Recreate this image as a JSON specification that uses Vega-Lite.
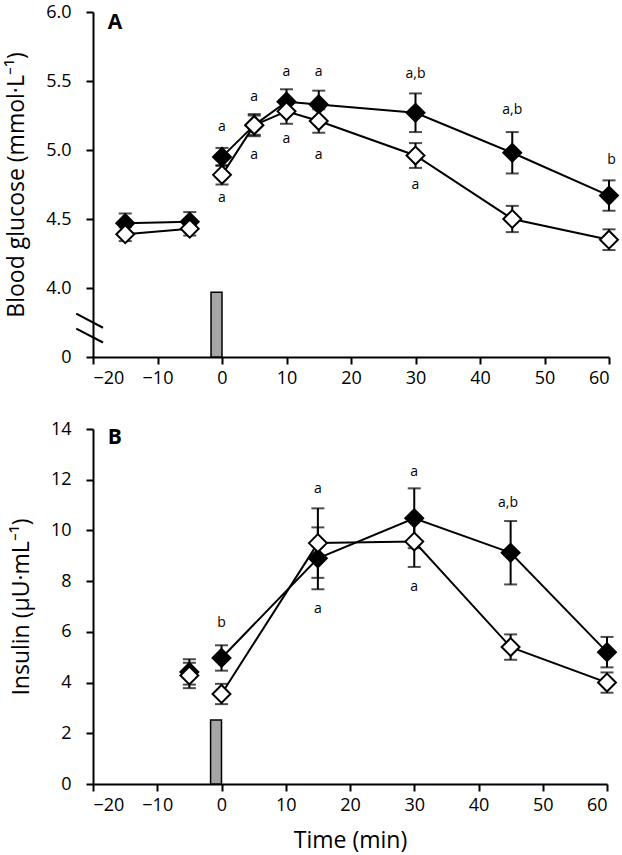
{
  "$schema": "https://vega.github.io/schema/vega-lite/v6.json",
  "padding": {"left": 5, "top": 3, "right": 0, "bottom": 3},
  "background": "white",
  "config": {
    "view": {"stroke": null},
    "font": "Open Sans",
    "axis": {
      "domainColor": "black", "domainWidth": 2,
      "tickColor": "black", "tickWidth": 2, "tickSize": 7,
      "labelColor": "black", "labelFont": "Open Sans", "labelFontSize": 18,
      "titleFont": "Open Sans", "titleFontSize": 23, "titleFontWeight": "normal", "titleColor": "black",
      "grid": false
    }
  },
  "datasets": {
    "glucose": [
      {"time": -15, "value": 4.47, "err": 0.07, "group": "filled", "seg": "f1"},
      {"time": -5, "value": 4.48, "err": 0.07, "group": "filled", "seg": "f1"},
      {"time": 0, "value": 4.95, "err": 0.065, "group": "filled", "seg": "f2"},
      {"time": 5, "value": 5.18, "err": 0.07, "group": "filled", "seg": "f2"},
      {"time": 10, "value": 5.35, "err": 0.09, "group": "filled", "seg": "f2"},
      {"time": 15, "value": 5.33, "err": 0.1, "group": "filled", "seg": "f2"},
      {"time": 30, "value": 5.27, "err": 0.14, "group": "filled", "seg": "f2"},
      {"time": 45, "value": 4.98, "err": 0.15, "group": "filled", "seg": "f2"},
      {"time": 60, "value": 4.67, "err": 0.11, "group": "filled", "seg": "f2"},
      {"time": -15, "value": 4.39, "err": 0.05, "group": "open", "seg": "o1"},
      {"time": -5, "value": 4.43, "err": 0.05, "group": "open", "seg": "o1"},
      {"time": 0, "value": 4.82, "err": 0.07, "group": "open", "seg": "o2"},
      {"time": 5, "value": 5.18, "err": 0.08, "group": "open", "seg": "o2"},
      {"time": 10, "value": 5.28, "err": 0.09, "group": "open", "seg": "o2"},
      {"time": 15, "value": 5.21, "err": 0.085, "group": "open", "seg": "o2"},
      {"time": 30, "value": 4.96, "err": 0.09, "group": "open", "seg": "o2"},
      {"time": 45, "value": 4.5, "err": 0.095, "group": "open", "seg": "o2"},
      {"time": 60, "value": 4.35, "err": 0.075, "group": "open", "seg": "o2"}
    ],
    "insulin": [
      {"time": -5, "value": 4.42, "err": 0.5, "group": "filled", "seg": "f1"},
      {"time": 0, "value": 4.97, "err": 0.5, "group": "filled", "seg": "f2"},
      {"time": 15, "value": 8.9, "err": 1.22, "group": "filled", "seg": "f2"},
      {"time": 30, "value": 10.48, "err": 1.18, "group": "filled", "seg": "f2"},
      {"time": 45, "value": 9.12, "err": 1.25, "group": "filled", "seg": "f2"},
      {"time": 60, "value": 5.2, "err": 0.6, "group": "filled", "seg": "f2"},
      {"time": -5, "value": 4.28, "err": 0.5, "group": "open", "seg": "o1"},
      {"time": 0, "value": 3.55, "err": 0.4, "group": "open", "seg": "o2"},
      {"time": 15, "value": 9.5, "err": 1.37, "group": "open", "seg": "o2"},
      {"time": 30, "value": 9.56, "err": 1.0, "group": "open", "seg": "o2"},
      {"time": 45, "value": 5.4, "err": 0.5, "group": "open", "seg": "o2"},
      {"time": 60, "value": 4.0, "err": 0.4, "group": "open", "seg": "o2"}
    ],
    "labelsA": [
      {"time": 0, "value": 5.17, "text": "a"},
      {"time": 0, "value": 4.65, "text": "a"},
      {"time": 5, "value": 5.386, "text": "a"},
      {"time": 5, "value": 4.964, "text": "a"},
      {"time": 10, "value": 5.564, "text": "a"},
      {"time": 10, "value": 5.079, "text": "a"},
      {"time": 15, "value": 5.564, "text": "a"},
      {"time": 15, "value": 4.964, "text": "a"},
      {"time": 30, "value": 5.55, "text": "a,b"},
      {"time": 30, "value": 4.75, "text": "a"},
      {"time": 45, "value": 5.293, "text": "a,b"},
      {"time": 60.4, "value": 4.93, "text": "b"}
    ],
    "labelsB": [
      {"time": 0, "value": 6.35, "text": "b"},
      {"time": 15, "value": 11.63, "text": "a"},
      {"time": 15, "value": 6.9, "text": "a"},
      {"time": 30, "value": 12.29, "text": "a"},
      {"time": 30, "value": 7.78, "text": "a"},
      {"time": 44.6, "value": 11.08, "text": "a,b"}
    ],
    "barA": [{"time": -1.7, "time2": 0, "value": 3.5, "value2": 3.97}],
    "barB": [{"time": -1.7, "time2": 0, "value": 0, "value2": 2.52}],
    "breaks": [
      {"time": -22.6, "time2": -18.45, "value": 3.814, "value2": 3.712},
      {"time": -22.6, "time2": -18.45, "value": 3.705, "value2": 3.605}
    ],
    "letterA": [{"time": -16.6, "value": 5.92, "text": "A"}],
    "letterB": [{"time": -16.6, "value": 13.64, "text": "B"}]
  },
  "spacing": 33,
  "vconcat": [
    {
      "width": 516,
      "height": 345,
      "encoding": {
        "x": {"field": "time", "type": "quantitative",
              "scale": {"domain": [-20, 60], "nice": false},
              "axis": {"values": [-20, -10, 0, 10, 20, 30, 40, 50, 60], "title": null, "labelPadding": 5}},
        "y": {"field": "value", "type": "quantitative",
              "scale": {"domain": [3.5, 6.0], "nice": false, "zero": false},
              "axis": {"values": [3.5, 4, 4.5, 5, 5.5, 6], "labelExpr": "datum.value == 3.5 ? '0' : format(datum.value, '.1f')",
                       "title": "Blood glucose (mmol·L⁻¹)", "labelPadding": 15, "titlePadding": 17}}
      },
      "layer": [
        {"data": {"name": "barA"}, "mark": {"type": "rect", "fill": "#a6a6a6", "stroke": "black", "strokeWidth": 1.5},
         "encoding": {"x2": {"field": "time2"}, "y2": {"field": "value2"}}},
        {"data": {"name": "breaks"}, "mark": {"type": "rule", "color": "black", "strokeWidth": 2},
         "encoding": {"x2": {"field": "time2"}, "y2": {"field": "value2"}}},
        {"data": {"name": "glucose"}, "mark": {"type": "errorbar", "color": "black", "ticks": {"size": 13, "thickness": 2, "color": "black"}, "rule": {"strokeWidth": 2, "color": "black"}},
         "encoding": {"yError": {"field": "err"}}},
        {"data": {"name": "glucose"}, "mark": {"type": "line", "color": "black", "strokeWidth": 2},
         "encoding": {"detail": {"field": "seg"}}},
        {"data": {"name": "glucose"}, "mark": {"type": "point", "shape": "diamond", "filled": true, "stroke": "black", "strokeWidth": 2, "size": 320, "opacity": 1},
         "encoding": {"fill": {"field": "group", "type": "nominal", "scale": {"domain": ["filled", "open"], "range": ["black", "white"]}, "legend": null}}},
        {"data": {"name": "labelsA"}, "mark": {"type": "text", "fontSize": 14, "color": "black"},
         "encoding": {"text": {"field": "text"}}},
        {"data": {"name": "letterA"}, "mark": {"type": "text", "fontSize": 21, "fontWeight": "bold", "color": "black"},
         "encoding": {"text": {"field": "text"}}}
      ]
    },
    {
      "width": 514,
      "height": 355,
      "encoding": {
        "x": {"field": "time", "type": "quantitative",
              "scale": {"domain": [-20, 60], "nice": false},
              "axis": {"values": [-20, -10, 0, 10, 20, 30, 40, 50, 60], "title": "Time (min)", "labelPadding": 5, "titlePadding": 15}},
        "y": {"field": "value", "type": "quantitative",
              "scale": {"domain": [0, 14], "nice": false},
              "axis": {"values": [0, 2, 4, 6, 8, 10, 12, 14], "title": "Insulin (μU·mL⁻¹)", "labelPadding": 15, "titlePadding": 17}}
      },
      "layer": [
        {"data": {"name": "barB"}, "mark": {"type": "rect", "fill": "#a6a6a6", "stroke": "black", "strokeWidth": 1.5},
         "encoding": {"x2": {"field": "time2"}, "y2": {"field": "value2"}}},
        {"data": {"name": "insulin"}, "mark": {"type": "errorbar", "color": "black", "ticks": {"size": 13, "thickness": 2, "color": "black"}, "rule": {"strokeWidth": 2, "color": "black"}},
         "encoding": {"yError": {"field": "err"}}},
        {"data": {"name": "insulin"}, "mark": {"type": "line", "color": "black", "strokeWidth": 2},
         "encoding": {"detail": {"field": "seg"}}},
        {"data": {"name": "insulin"}, "mark": {"type": "point", "shape": "diamond", "filled": true, "stroke": "black", "strokeWidth": 2, "size": 320, "opacity": 1},
         "encoding": {"fill": {"field": "group", "type": "nominal", "scale": {"domain": ["filled", "open"], "range": ["black", "white"]}, "legend": null}}},
        {"data": {"name": "labelsB"}, "mark": {"type": "text", "fontSize": 14, "color": "black"},
         "encoding": {"text": {"field": "text"}}},
        {"data": {"name": "letterB"}, "mark": {"type": "text", "fontSize": 21, "fontWeight": "bold", "color": "black"},
         "encoding": {"text": {"field": "text"}}}
      ]
    }
  ]
}
